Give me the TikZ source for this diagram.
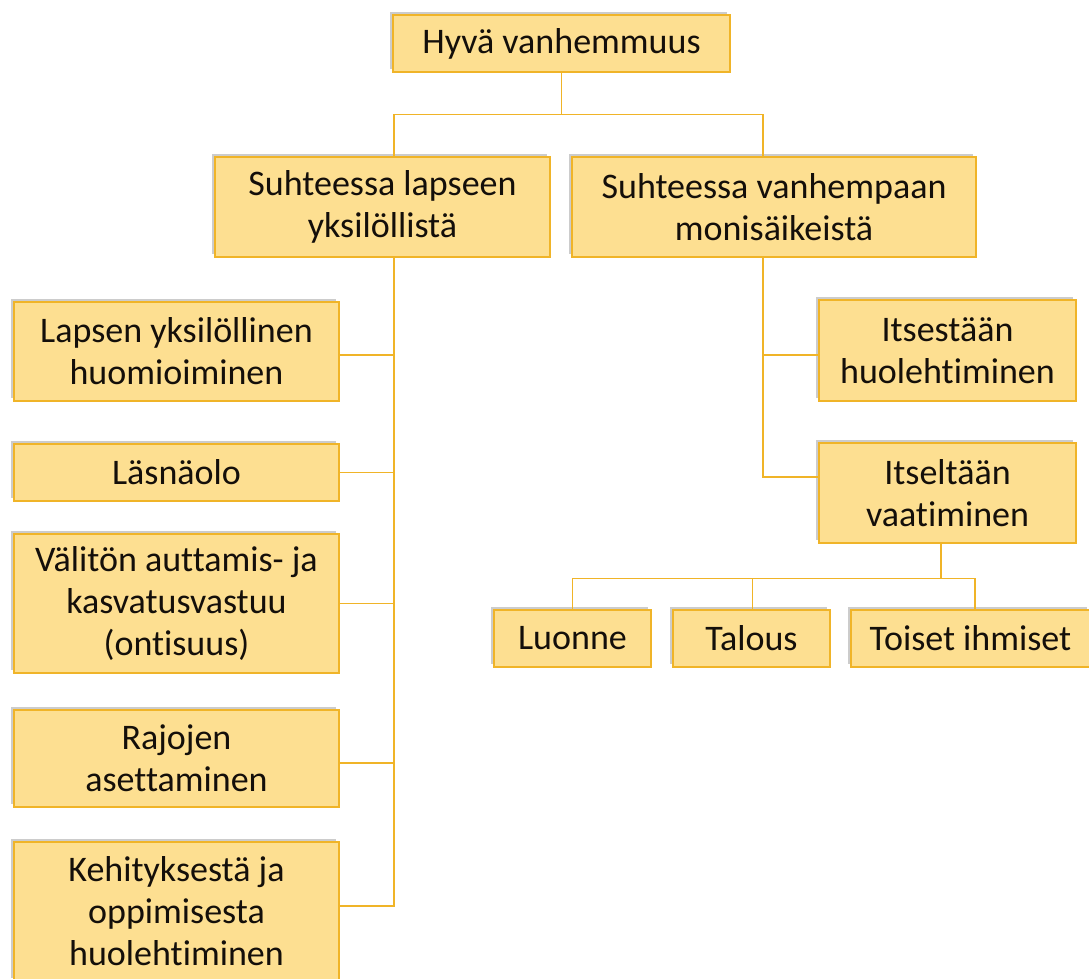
\documentclass[tikz,border=0pt]{standalone}
\usepackage{fontspec}
\setmainfont{Carlito}[Ligatures={NoCommon}]
\usetikzlibrary{shadows}
\definecolor{boxfill}{RGB}{253,223,145}
\definecolor{boxline}{RGB}{240,180,40}
\definecolor{txt}{RGB}{20,15,10}
\tikzset{
  x=1pt, y=-1pt,
  box/.style={draw=boxline, fill=boxfill, line width=1.4pt, inner sep=0pt,
    align=center, text=txt, font=\fontsize{36}{42}\selectfont,
    drop shadow={shadow xshift=-3pt, shadow yshift=3pt, opacity=0.2, fill=black}},
  conn/.style={draw=boxline, line width=1.4pt}
}
\begin{document}
\begin{tikzpicture}
\useasboundingbox (0,0) rectangle (1089,978);
\clip (0,0) rectangle (1089,978);
% nodes
\node[box, minimum width=337pt, minimum height=57pt] (top) at (561.5,43.5) {Hyvä vanhemmuus};
\node[box, minimum width=335pt, minimum height=100pt] (sl) at (382.5,207) {Suhteessa lapseen\\yksilöllistä};
\node[box, minimum width=404pt, minimum height=100pt] (sv) at (774,207) {Suhteessa vanhempaan\\monisäikeistä};
\node[box, minimum width=325pt, minimum height=99pt] (c1) at (176.5,351.5) {Lapsen yksilöllinen\\huomioiminen};
\node[box, minimum width=325pt, minimum height=57pt] (c2) at (176.5,472.5) {Läsnäolo};
\node[box, minimum width=325pt, minimum height=139pt] (c3) at (176.5,603.5) {Välitön auttamis- ja\\kasvatusvastuu\\(ontisuus)};
\node[box, minimum width=325pt, minimum height=97pt] (c4) at (176.5,758.5) {Rajojen\\asettaminen};
\node[box, minimum width=325pt, minimum height=139pt] (c5) at (176.5,911.5) {Kehityksestä ja\\oppimisesta\\huolehtiminen};
\node[box, minimum width=257pt, minimum height=101pt] (r1) at (947.5,350.5) {Itsestään\\huolehtiminen};
\node[box, minimum width=257pt, minimum height=100pt] (r2) at (947.5,493) {Itseltään\\vaatiminen};
\node[box, minimum width=157pt, minimum height=57pt] (g1) at (572.5,638.5) {Luonne};
\node[box, minimum width=157pt, minimum height=57pt] (g2) at (751.5,638.5) {Talous};
\node[box, minimum width=239pt, minimum height=57pt] (g3) at (970.5,638.5) {Toiset ihmiset};
% connectors
\draw[conn] (top.south) -- ++(0,42) coordinate (j1);
\draw[conn] (j1) -| ([xshift=11.5pt]sl.north);
\draw[conn] (j1) -| ([xshift=-11pt]sv.north);
\coordinate (lt) at ([xshift=11.5pt]sl.south);
\draw[conn] (lt) |- ([yshift=5.5pt]c5.east);
\draw[conn] ([yshift=-3.5pt]c1.east) -- ([yshift=-3.5pt]c1.east -| lt);
\draw[conn] (c2.east) -- (c2.east -| lt);
\draw[conn] (c3.east) -- (c3.east -| lt);
\draw[conn] ([yshift=-4.5pt]c4.east) -- ([yshift=-4.5pt]c4.east -| lt);
\coordinate (rt) at ([xshift=-11pt]sv.south);
\draw[conn] (rt) |- ([yshift=16pt]r2.west);
\draw[conn] ([yshift=-4.5pt]r1.west) -- ([yshift=-4.5pt]r1.west -| rt);
\draw[conn] ([xshift=-6.5pt]r2.south) -- ++(0,35) coordinate (j2);
\draw[conn] (j2) -| (g1.north);
\draw[conn] (j2) -| ([xshift=1pt]g2.north);
\draw[conn] (j2) -| ([xshift=4.5pt]g3.north);
\end{tikzpicture}
\end{document}
